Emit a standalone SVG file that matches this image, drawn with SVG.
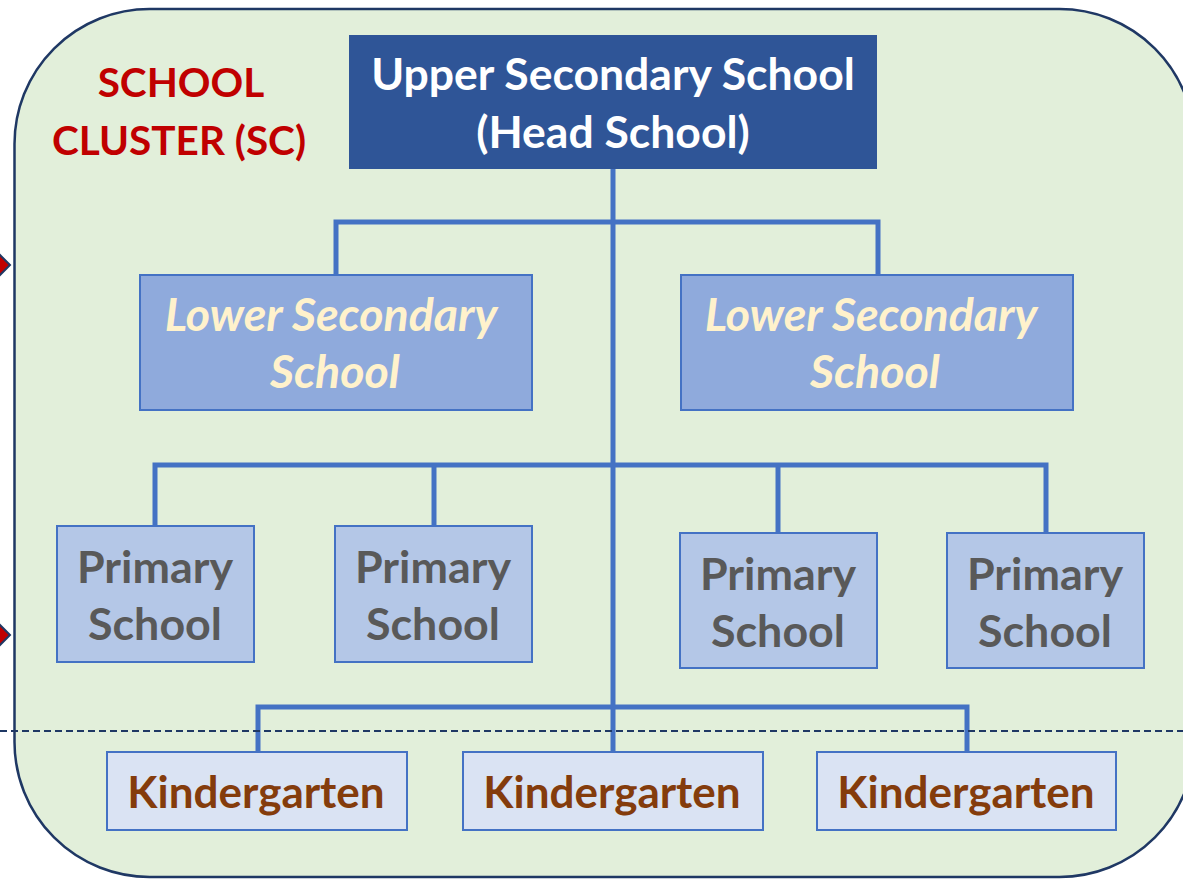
<svg xmlns="http://www.w3.org/2000/svg" width="1183" height="879" viewBox="0 0 1183 879">
  <style>
    .t { font-family: Lato, "Liberation Sans", sans-serif; font-weight: bold; text-anchor: middle; }
    .head { fill: #2F5597; }
    .lower { fill: #8FAADC; stroke: #4472C4; stroke-width: 2; }
    .prim { fill: #B4C7E7; stroke: #4472C4; stroke-width: 2; }
    .kg { fill: #DAE3F3; stroke: #4472C4; stroke-width: 2; }
    .conn { fill: none; stroke: #4472C4; stroke-width: 5; }
    .tip { fill: #C00000; stroke: #1F3864; stroke-width: 2; }
  </style>
  <rect width="1183" height="879" fill="#FFFFFF"/>
  <g id="left-arrows">
    <polygon class="tip" points="10,265 -8,247 -8,283"/>
    <polygon class="tip" points="10,635 -8,617 -8,653"/>
  </g>
  <g id="cluster">
    <rect x="14.5" y="9" width="1180" height="868" rx="135" ry="135" fill="#E2EFDA" stroke="#1F3864" stroke-width="2.5"/>
  </g>
  <g id="cluster-label" class="t" fill="#C00000" font-size="40.5">
    <text x="181" y="97">SCHOOL</text>
    <text x="179" y="155">CLUSTER (SC)</text>
  </g>
  <g id="connectors">
    <path class="conn" d="M613 169 V752"/>
    <path class="conn" d="M336 275 V222 H878 V275"/>
    <path class="conn" d="M155 526 V465 H1046 V533"/>
    <path class="conn" d="M434 465 V526"/>
    <path class="conn" d="M778 465 V533"/>
    <path class="conn" d="M258 752 V707 H967 V752"/>
  </g>
  <g id="divider">
    <line x1="0" y1="731" x2="1183" y2="731" stroke="#1F3864" stroke-width="1.8" stroke-dasharray="7 4"/>
  </g>
  <g id="head-school">
    <rect class="head" x="349" y="35" width="528" height="134"/>
    <text class="t" x="613" y="90" font-size="44.5" fill="#FFFFFF">Upper Secondary School</text>
    <text class="t" x="613" y="148" font-size="44.5" fill="#FFFFFF">(Head School)</text>
  </g>
  <g id="lower-secondary-1">
    <rect class="lower" x="140" y="275" width="392" height="135"/>
    <text class="t" x="331" y="331" font-size="46.5" font-style="italic" fill="#FFF2CC">Lower Secondary</text>
    <text class="t" x="335" y="388" font-size="46.5" font-style="italic" fill="#FFF2CC">School</text>
  </g>
  <g id="lower-secondary-2">
    <rect class="lower" x="681" y="275" width="392" height="135"/>
    <text class="t" x="871" y="331" font-size="46.5" font-style="italic" fill="#FFF2CC">Lower Secondary</text>
    <text class="t" x="875" y="388" font-size="46.5" font-style="italic" fill="#FFF2CC">School</text>
  </g>
  <g id="primary-1">
    <rect class="prim" x="57" y="526" width="197" height="136"/>
    <text class="t" x="155" y="583" font-size="44.8" fill="#595959">Primary</text>
    <text class="t" x="155" y="640" font-size="44.8" fill="#595959">School</text>
  </g>
  <g id="primary-2">
    <rect class="prim" x="335" y="526" width="197" height="136"/>
    <text class="t" x="433" y="583" font-size="44.8" fill="#595959">Primary</text>
    <text class="t" x="433" y="640" font-size="44.8" fill="#595959">School</text>
  </g>
  <g id="primary-3">
    <rect class="prim" x="680" y="533" width="197" height="135"/>
    <text class="t" x="778" y="590" font-size="44.8" fill="#595959">Primary</text>
    <text class="t" x="778" y="647" font-size="44.8" fill="#595959">School</text>
  </g>
  <g id="primary-4">
    <rect class="prim" x="947" y="533" width="197" height="135"/>
    <text class="t" x="1045" y="590" font-size="44.8" fill="#595959">Primary</text>
    <text class="t" x="1045" y="647" font-size="44.8" fill="#595959">School</text>
  </g>
  <g id="kindergarten-1">
    <rect class="kg" x="107" y="752" width="300" height="78"/>
    <text class="t" x="256" y="808" font-size="44" fill="#843C0C">Kindergarten</text>
  </g>
  <g id="kindergarten-2">
    <rect class="kg" x="463" y="752" width="300" height="78"/>
    <text class="t" x="612" y="808" font-size="44" fill="#843C0C">Kindergarten</text>
  </g>
  <g id="kindergarten-3">
    <rect class="kg" x="817" y="752" width="299" height="78"/>
    <text class="t" x="966" y="808" font-size="44" fill="#843C0C">Kindergarten</text>
  </g>
</svg>
